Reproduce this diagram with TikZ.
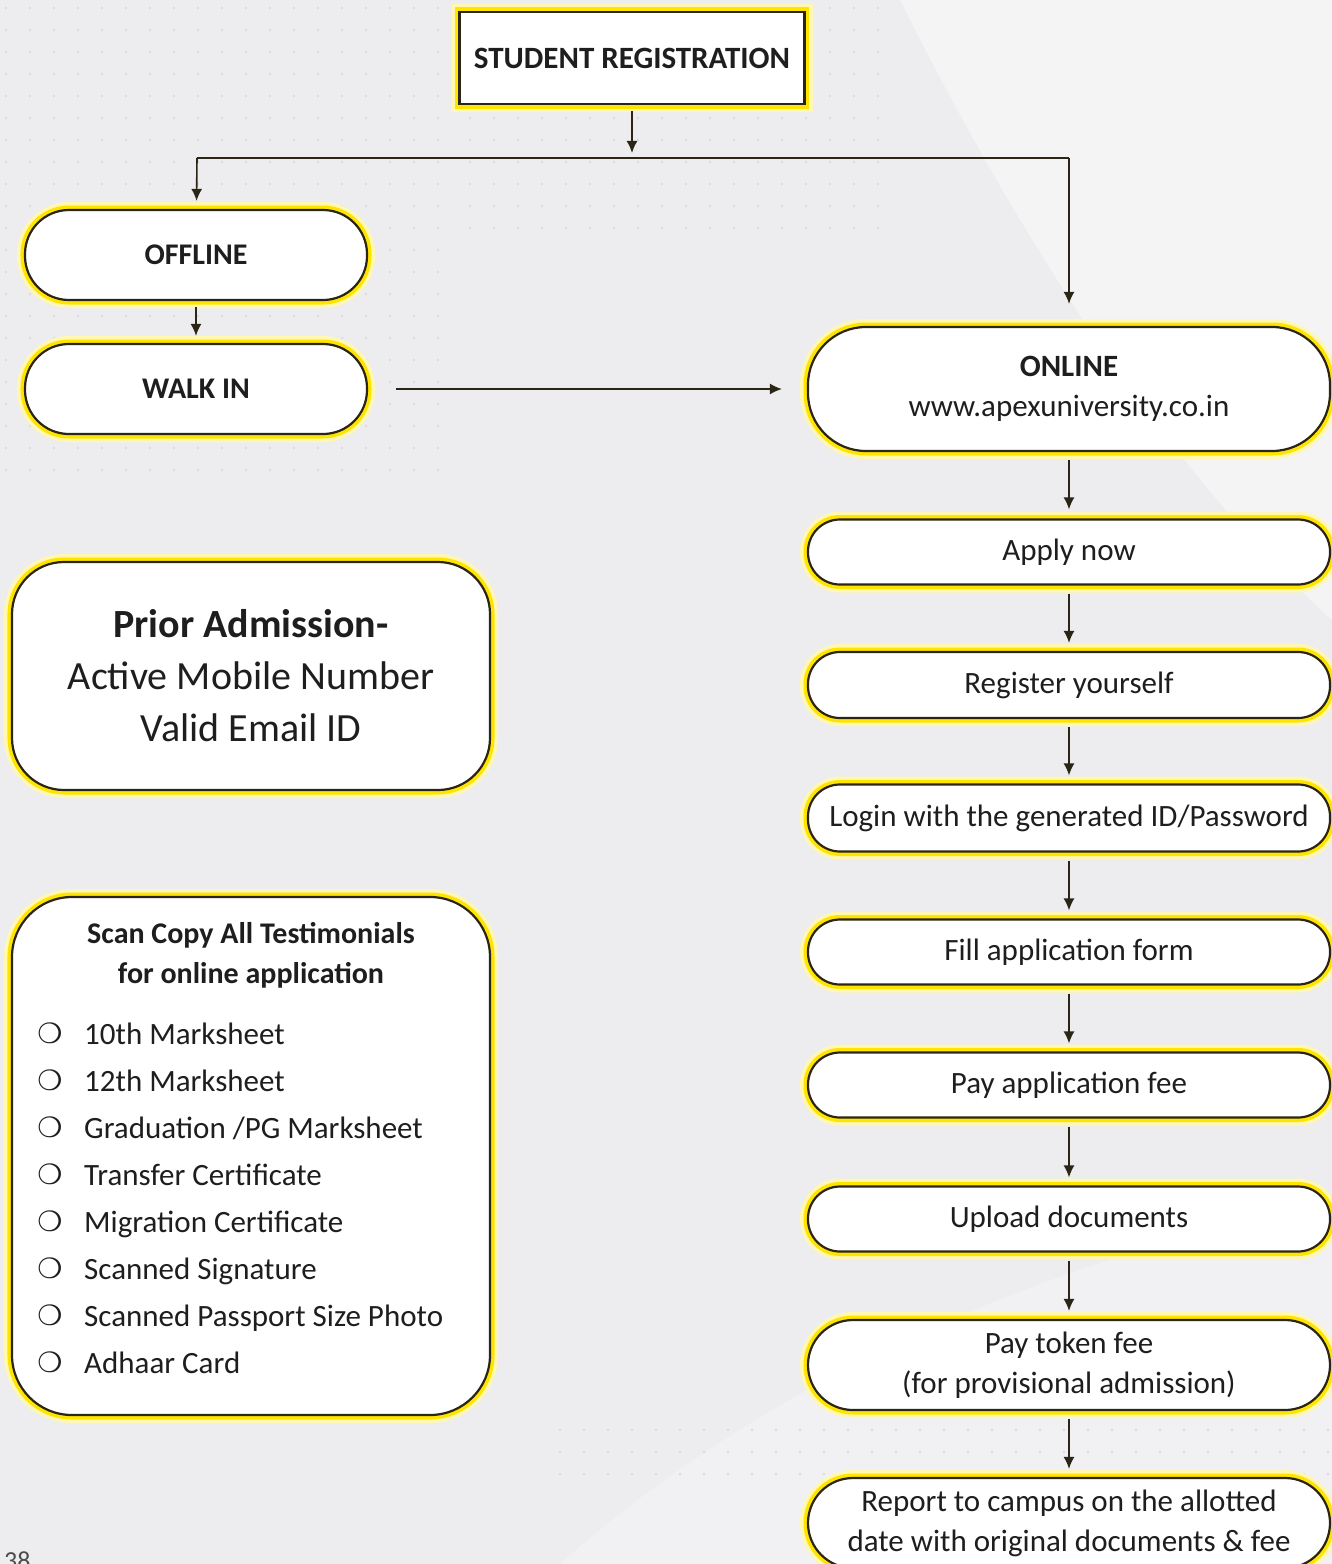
\documentclass[tikz,border=0pt]{standalone}
\usepackage{fontspec}
\setmainfont{Carlito}
\newfontfamily\dejavu{DejaVu Sans}
\usetikzlibrary{arrows.meta}
\definecolor{ylw}{HTML}{FFE400}
\definecolor{edge}{HTML}{2A2514}
\definecolor{ink}{HTML}{1E1E1E}
\definecolor{bg}{HTML}{EDEDEF}
\definecolor{dotc}{HTML}{DCDCE0}
\tikzset{
  ybox/.style={draw=edge, line width=2.2bp, fill=white, text=ink, inner sep=0pt, align=center,
    preaction={draw=ylw!30, line width=16bp},
    preaction={draw=ylw, line width=9bp}},
  pill/.style={ybox, rounded corners=#1},
  stepbox/.style={pill=32bp, minimum width=522bp, minimum height=65bp,
    font=\fontsize{31bp}{40bp}\selectfont},
  tallbox/.style={pill=45bp, minimum width=522bp, minimum height=90bp,
    font=\fontsize{31bp}{40bp}\selectfont},
  leftpill/.style={pill=44bp, minimum width=342bp, minimum height=90bp,
    font=\fontsize{30bp}{38bp}\selectfont\bfseries},
  arr/.style={draw=edge, line width=1.6bp, -{Latex[length=12bp,width=11bp]}},
  plain/.style={draw=edge, line width=1.6bp},
  itemtxt/.style={anchor=base west, inner sep=0pt, text=ink, font=\fontsize{31bp}{38bp}\selectfont},
  bullet/.style={inner sep=0pt, text=ink, font=\fontsize{28bp}{32bp}\dejavu},
}
\begin{document}
\begin{tikzpicture}[x=1bp,y=-1bp]
\useasboundingbox (0,0) rectangle (1332,1564);
\clip (0,0) rectangle (1332,1564);
% background
\fill[bg] (0,0) rectangle (1332,1564);
\fill[white,opacity=0.4] (900,0) .. controls (1050,300) and (1200,500) .. (1332,620) -- (1332,0) -- cycle;
\fill[white,opacity=0.25] (560,1564) .. controls (800,1350) and (1100,1250) .. (1332,1200) -- (1332,1564) -- cycle;
\foreach \xx in {6,30,...,450} {
  \foreach \yy in {8,30,...,480} {
    \fill[dotc] (\xx,\yy) circle (1.4);
  }
}
\foreach \xx in {470,494,...,900} {
  \foreach \yy in {8,30,...,230} {
    \fill[dotc] (\xx,\yy) circle (1.4);
  }
}
\foreach \xx in {560,584,...,1332} {
  \foreach \yy in {1430,1452,1474} {
    \fill[dotc] (\xx,\yy) circle (1.4);
  }
}

% top node
\node[ybox, minimum width=345bp, minimum height=92bp,
  font=\fontsize{31bp}{38bp}\selectfont\bfseries] (sr) at (632,58) {STUDENT REGISTRATION};

% left column
\node[leftpill] (off) at (196,255) {OFFLINE};
\node[leftpill] (walk) at (196,389) {WALK IN};

% right column
\node[pill=58bp, minimum width=522bp, minimum height=124bp,
  font=\fontsize{31bp}{40bp}\selectfont] (on) at (1069,389)
  {\textbf{ONLINE}\\www.apexuniversity.co.in};
\node[stepbox] (apply) at (1069,552) {Apply now};
\node[stepbox, minimum height=66bp] (reg) at (1069,685) {Register yourself};
\node[stepbox, minimum height=67bp] (login) at (1069,818) {Login with the generated ID/Password};
\node[stepbox] (fill) at (1069,952) {Fill application form};
\node[stepbox] (payapp) at (1069,1085) {Pay application fee};
\node[stepbox] (upload) at (1069,1219) {Upload documents};
\node[tallbox] (token) at (1069,1365) {Pay token fee\\(for provisional admission)};
\node[tallbox] (report) at (1069,1523) {Report to campus on the allotted\\date with original documents \& fee};

% info boxes
\node[pill=52bp, minimum width=478bp, minimum height=228bp,
  font=\fontsize{40bp}{52bp}\selectfont] (prior) at (251,676)
  {\textbf{Prior Admission-}\\Active Mobile Number\\Valid Email ID};
\node[pill=60bp, minimum width=478bp, minimum height=518bp] (scan) at (251,1156) {};
\node[inner sep=0pt, align=center, text=ink, font=\fontsize{30bp}{40bp}\selectfont\bfseries]
  (scantitle) at (251,955) {Scan Copy All Testimonials\\for online application};
\foreach \t [count=\i from 0] in {10th Marksheet, 12th Marksheet, Graduation /PG Marksheet,
    Transfer Certificate, Migration Certificate, Scanned Signature,
    Scanned Passport Size Photo, Adhaar Card} {
  \node[bullet] (b\i) at (50,1033+47*\i) {❍};
  \node[itemtxt] (it\i) at (84,1044+47*\i) {\t};
}

% page number
\node[anchor=base west, inner sep=0pt, text=ink!80, font=\fontsize{26bp}{30bp}\selectfont] (pg) at (4,1569) {38};

% connectors
\coordinate (j) at (632,158);
\coordinate (jl) at (197,158);
\coordinate (jr) at (1069,158);
\draw[arr, shorten <=6bp, shorten >=5bp] (sr) -- (j);
\draw[plain] (jl) -- (jr);
\draw[arr, shorten >=8bp] (jl) -- (off);
\draw[arr, shorten >=22bp] (jr) -- (on);
\draw[arr, shorten <=6bp, shorten >=7bp] (off) -- (walk);
\draw[arr, shorten <=28bp, shorten >=25bp] (walk) -- (on);
\draw[arr, shorten <=8bp, shorten >=9bp] (on) -- (apply);
\draw[arr, shorten <=8bp, shorten >=8bp] (apply) -- (reg);
\draw[arr, shorten <=8bp, shorten >=8bp] (reg) -- (login);
\draw[arr, shorten <=8bp, shorten >=8bp] (login) -- (fill);
\draw[arr, shorten <=8bp, shorten >=8bp] (fill) -- (payapp);
\draw[arr, shorten <=8bp, shorten >=8bp] (payapp) -- (upload);
\draw[arr, shorten <=8bp, shorten >=8bp] (upload) -- (token);
\draw[arr, shorten <=8bp, shorten >=8bp] (token) -- (report);
\end{tikzpicture}
\end{document}
